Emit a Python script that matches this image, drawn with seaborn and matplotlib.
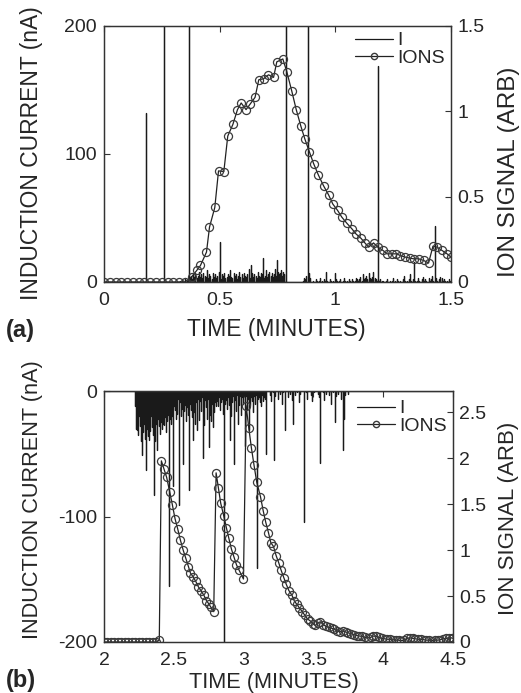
import numpy as np
import pandas as pd
import matplotlib
matplotlib.use("Agg")
import matplotlib.pyplot as plt
import seaborn as sns
from matplotlib.lines import Line2D

sns.set_style("white")
plt.rcParams["font.family"] = ["Liberation Sans", "DejaVu Sans"]

# ---------------- Panel (a) data ----------------
ion_a_t = [0.0, 0.025, 0.05, 0.075, 0.1, 0.125, 0.15, 0.175, 0.2, 0.225, 0.25, 0.275, 0.3, 0.325, 0.35,
           0.379, 0.401, 0.417, 0.443, 0.456, 0.479, 0.495, 0.518, 0.535, 0.557, 0.577, 0.593, 0.614,
           0.632, 0.653, 0.669, 0.690, 0.711, 0.733, 0.747, 0.773, 0.790, 0.812, 0.831, 0.851, 0.868,
           0.888, 0.906, 0.927, 0.949, 0.971, 0.989, 1.010, 1.028, 1.050, 1.072, 1.089, 1.111, 1.129,
           1.144, 1.165, 1.184, 1.206, 1.223, 1.245, 1.264, 1.281, 1.302, 1.321, 1.339, 1.360, 1.382,
           1.403, 1.422, 1.440, 1.461, 1.483, 1.500]
ion_a_v = [0, 0, 0, 0, 0, 0, 0, 0, 0, 0, 0, 0, 0, 0, 0,
           0.03, 0.068, 0.097, 0.175, 0.321, 0.437, 0.651, 0.647, 0.855, 0.923, 1.010, 1.049, 1.010,
           1.043, 1.082, 1.185, 1.191, 1.214, 1.199, 1.290, 1.307, 1.233, 1.117, 1.010, 0.913, 0.839,
           0.762, 0.694, 0.626, 0.564, 0.510, 0.457, 0.419, 0.380, 0.344, 0.311, 0.282, 0.256, 0.227,
           0.204, 0.229, 0.204, 0.185, 0.165, 0.165, 0.165, 0.155, 0.146, 0.140, 0.136, 0.136, 0.126,
           0.111, 0.210, 0.204, 0.185, 0.165, 0.146]

# isolated current spikes (nA)
spk_a_t = [0.182, 0.260, 0.366, 0.502, 0.636, 0.687, 0.747, 0.788, 0.883, 1.184, 1.339, 1.432]
spk_a_v = [132, 260, 260, 31, 13, 19, 17, 260, 260, 169, 16, 44]

# dense noise bands: (start, end) and read-off heights
band_a_1 = (0.33, 0.37)
band_a_1_v = [1, 0, 2, 1, 0, 3, 1, 2, 4, 2]
band_a_2 = (0.37, 0.785)
band_a_2_v = [3, 5, 2, 6, 4, 7, 3, 5, 8, 4, 6, 3, 7, 5, 4, 9, 3, 6, 5, 2, 7, 4, 6, 3, 5, 8, 4, 2,
              6, 5, 7, 3, 4, 6, 5, 9, 4, 3, 7, 5, 6, 2, 5, 8, 4, 6, 3, 7, 5, 4, 6, 10, 3, 5, 7, 4,
              6, 5, 3, 8, 5, 4, 7, 6, 3, 5, 9, 4, 6, 8, 5, 7, 4, 6, 10, 5, 8, 6, 7, 9, 5, 8, 6, 4]
band_a_3 = (0.86, 0.89)
band_a_3_v = [1, 3, 2, 5, 2, 7, 3]
band_a_4 = (0.90, 1.20)
band_a_4_v = [0, 1, 0, 2, 1, 0, 1, 3, 1, 0, 2, 1, 8, 1, 0, 2, 1, 0, 1, 7, 2, 1, 0, 1, 2, 0, 1, 3,
              1, 0, 1, 2, 1, 0, 2, 1, 1, 3, 2, 1, 2, 4, 1, 6, 2, 3, 5, 2, 7, 3, 2, 4, 8, 3, 2, 1,
              0, 1, 2, 1]
band_a_5 = (1.20, 1.50)
band_a_5_v = [0, 1, 0, 0, 1, 2, 0, 1, 0, 1, 3, 1, 0, 2, 1, 0, 1, 0, 2, 5, 1, 0, 1, 2, 6, 1, 0, 2,
              1, 0, 1, 3, 1, 0, 2, 4, 1, 2, 1, 0, 3, 1, 2, 5, 1, 2, 3, 1, 0, 2, 4, 3, 1, 2, 1, 0,
              1, 2, 1, 0]

# ---------------- Panel (b) data ----------------
ion_b_t = [2.0, 2.025, 2.05, 2.075, 2.1, 2.125, 2.15, 2.175, 2.2, 2.225, 2.25, 2.275, 2.3, 2.325,
           2.35, 2.375, 2.396,
           2.411, 2.430, 2.449, 2.471, 2.490, 2.509, 2.528, 2.547, 2.567, 2.586, 2.605, 2.619, 2.638,
           2.657, 2.676, 2.698, 2.715, 2.734, 2.753, 2.765, 2.786,
           2.803, 2.820, 2.836, 2.858, 2.877, 2.894, 2.913, 2.932, 2.949, 2.968, 2.999,
           3.018, 3.037, 3.056, 3.075, 3.094, 3.121, 3.140, 3.159, 3.178, 3.195, 3.214, 3.233, 3.252,
           3.269, 3.288, 3.305, 3.324, 3.346, 3.362, 3.381, 3.400, 3.420, 3.439, 3.458, 3.477, 3.496,
           3.515, 3.535, 3.55, 3.57, 3.59, 3.61, 3.63, 3.65, 3.67, 3.69, 3.71, 3.73, 3.75, 3.77, 3.79,
           3.81, 3.83, 3.85, 3.87, 3.89, 3.91, 3.93, 3.95, 3.97, 3.99, 4.01, 4.03, 4.05, 4.07, 4.09,
           4.11, 4.13, 4.15, 4.17, 4.19, 4.21, 4.23, 4.25, 4.27, 4.29, 4.31, 4.33, 4.35, 4.37, 4.39,
           4.41, 4.43, 4.45, 4.47, 4.49, 4.50]
ion_b_v = [0, 0, 0, 0, 0, 0, 0, 0, 0, 0, 0, 0, 0, 0, 0, 0, 0.02,
           1.97, 1.88, 1.79, 1.63, 1.49, 1.34, 1.23, 1.11, 1.00, 0.91, 0.82, 0.75, 0.71,
           0.66, 0.60, 0.55, 0.51, 0.45, 0.41, 0.38, 0.33,
           1.84, 1.67, 1.51, 1.37, 1.24, 1.13, 1.01, 0.92, 0.84, 0.78, 0.685,
           2.57, 2.33, 2.11, 1.92, 1.74, 1.58, 1.43, 1.30, 1.19, 1.08, 1.04, 0.94, 0.86,
           0.78, 0.70, 0.63, 0.56, 0.51, 0.45, 0.41, 0.37, 0.33, 0.29, 0.25, 0.23, 0.20,
           0.18, 0.21, 0.22, 0.19, 0.17, 0.16, 0.15, 0.14, 0.12, 0.11, 0.12, 0.11, 0.10, 0.09, 0.08,
           0.07, 0.065, 0.06, 0.05, 0.045, 0.05, 0.065, 0.06, 0.05, 0.04, 0.035, 0.03, 0.03, 0.025, 0.02,
           0.02, 0.015, 0.02, 0.04, 0.045, 0.04, 0.035, 0.03, 0.03, 0.025, 0.02, 0.02, 0.015, 0.02, 0.02,
           0.025, 0.035, 0.04, 0.04, 0.045, 0.04]

spk_b_t = [2.239, 2.270, 2.299, 2.320, 2.358, 2.378, 2.400, 2.425, 2.468, 2.497, 2.535, 2.564,
           2.612, 2.636, 2.664, 2.712, 2.755, 2.784, 2.860, 2.903, 2.932, 2.958, 3.008, 3.042,
           3.095, 3.159, 3.219, 3.298, 3.357, 3.434, 3.549, 3.656, 3.709, 3.716]
spk_b_v = [-31, -51, -63, -39, -83, -47, -34, -26, -155, -76, -91, -58, -79, -39, -31, -53, -45,
           -29, -205, -39, -58, -26, -44, -31, -141, -50, -55, -31, -26, -104, -57, -25, -47, -22]

band_b_1 = (2.225, 2.50)
band_b_1_v = [-12, -30, -18, -25, -8, -35, -20, -15, -28, -10, -40, -22, -17, -33, -12, -26, -19,
              -38, -14, -24, -30, -9, -21, -36, -16, -27, -13, -32, -20, -11, -29, -18, -35, -23,
              -15, -40, -19, -26, -12, -31, -22, -17, -28, -14, -34, -20, -25, -11, -30, -18, -23,
              -16, -27, -13, -21, -33, -15, -24, -19, -12, -28, -17, -22, -10, -26, -14, -20, -30,
              -16, -12]
band_b_2 = (2.50, 2.80)
band_b_2_v = [-8, -15, -5, -22, -10, -18, -6, -25, -12, -9, -20, -4, -14, -28, -7, -16, -11, -24,
              -6, -13, -19, -8, -30, -10, -15, -5, -21, -12, -17, -7, -26, -9, -14, -20, -6, -11,
              -23, -8, -16, -12, -5, -18, -10, -27, -7, -13, -9, -22, -6, -15, -11, -19, -8, -24,
              -10, -14, -6, -17, -9, -12]
band_b_3 = (2.80, 3.15)
band_b_3_v = [-3, -8, -2, -12, -5, -15, -4, -9, -6, -18, -3, -10, -7, -4, -14, -5, -11, -3, -20,
              -6, -9, -4, -13, -7, -5, -16, -3, -8, -11, -4, -6, -19, -5, -10, -3, -12, -7, -4,
              -15, -6, -9, -3, -11, -5, -8, -17, -4, -7, -10, -3, -13, -6, -5, -9, -4, -12, -3,
              -8, -5, -6]
band_b_4 = (3.15, 3.75)
band_b_4_v = [-2, -5, 0, -3, -8, -1, -4, 0, -6, -2, -10, -1, -3, 0, -5, -2, -7, 0, -3, -1, -9,
              -2, 0, -4, -1, -6, 0, -3, -8, -1, 0, -2, -5, 0, -1, -7, -2, 0, -3, -10, -1, 0, -4,
              -2, 0, -6, -1, -3, 0, -2]

# axes / tick definitions
xt_a = [0, 0.5, 1, 1.5]
xtl_a = ["0", "0.5", "1", "1.5"]
yt_a = [0, 100, 200]
yt2_a = [0, 0.5, 1, 1.5]
yt2l_a = ["0", "0.5", "1", "1.5"]
xt_b = [2, 2.5, 3, 3.5, 4, 4.5]
xtl_b = ["2", "2.5", "3", "3.5", "4", "4.5"]
yt_b = [-200, -100, 0]
yt2_b = [0, 0.5, 1, 1.5, 2, 2.5]
yt2l_b = ["0", "0.5", "1", "1.5", "2", "2.5"]


def current_frame(xlim, spk_t, spk_v, bands):
    """Build a spike trace table (baseline 0, each reading goes 0 -> value -> 0)."""
    ts = list(spk_t)
    vs = list(spk_v)
    for (a, b), vals in bands:
        ts += list(np.linspace(a, b, len(vals)))
        vs += list(vals)
    order = np.argsort(ts, kind="stable")
    t_out = [xlim[0]]
    v_out = [0.0]
    for i in order:
        t_out += [ts[i], ts[i], ts[i]]
        v_out += [0.0, vs[i], 0.0]
    t_out.append(xlim[1])
    v_out.append(0.0)
    return pd.DataFrame({"t": t_out, "I": v_out})


TICK_FS = 14
SP_COL = "#1a1a1a"
ION_LINE = "#222222"
ION_EDGE = "#3a3a3a"
W, H = 521, 693

fig = plt.figure(figsize=(W / 100, H / 100), dpi=100)


def make_panel(box, xlim, ylim, ylim2, xt, xtl, yt, yt2, yt2l, df_cur, ion_t, ion_v,
               letter, letter_y, lab_fs, rlab_fs, xlab_top, xlab_cx, ylab_cy, rlab_cy, leg_dy):
    l, t, r, b = box
    axw, axh = r - l, b - t
    ax = fig.add_axes([l / W, 1 - b / H, axw / W, axh / H])
    ax2 = ax.twinx()
    sns.lineplot(data=df_cur, x="t", y="I", ax=ax, sort=False, estimator=None,
                 color=SP_COL, lw=0.9)
    df_ion = pd.DataFrame({"t": ion_t, "s": ion_v})
    sns.lineplot(data=df_ion, x="t", y="s", ax=ax2, sort=False, estimator=None,
                 color=ION_LINE, lw=0.9, marker="o", markersize=5.8,
                 markerfacecolor="none", markeredgecolor=ION_EDGE, markeredgewidth=0.9)
    ax.set_xlim(*xlim)
    ax.set_ylim(*ylim)
    ax2.set_ylim(*ylim2)
    ax.set_xticks(xt)
    ax.set_xticklabels(xtl)
    ax.set_yticks(yt)
    ax.set_yticklabels([str(v) for v in yt])
    ax2.set_yticks(yt2)
    ax2.set_yticklabels(yt2l)
    ax.tick_params(axis="x", direction="in", top=True, length=4, width=0.8,
                   labelsize=TICK_FS, pad=7.5, color="#333")
    ax.tick_params(axis="y", direction="in", length=4, width=0.8, labelsize=TICK_FS,
                   pad=5, color="#333")
    ax2.tick_params(axis="y", direction="in", length=4, width=0.8, labelsize=TICK_FS,
                    pad=4.5, color="#333")
    for a in (ax, ax2):
        for s in a.spines.values():
            s.set_color("#333333")
            s.set_linewidth(0.9)
    ax.set_xlabel("TIME (MINUTES)", fontsize=lab_fs)
    ax.xaxis.set_label_coords((xlab_cx - l) / axw, (b - xlab_top) / axh)
    ax.set_ylabel("INDUCTION CURRENT (nA)", fontsize=lab_fs)
    ax.yaxis.set_label_coords((43 - l) / axw, (b - ylab_cy) / axh)
    ax2.set_ylabel("ION SIGNAL (ARB)", fontsize=rlab_fs)
    ax2.yaxis.set_label_coords((498 - l) / axw, (b - rlab_cy) / axh)
    handles = [Line2D([], [], color=SP_COL, lw=0.9),
               Line2D([], [], color=ION_LINE, lw=0.9, marker="o", markersize=4.5,
                      markerfacecolor="none", markeredgecolor=ION_EDGE)]
    ax2.legend(handles, ["I", "IONS"], loc="upper right", frameon=False,
               bbox_to_anchor=(1.0, 1.0 - leg_dy / axh),
               fontsize=14, handlelength=1.95, handletextpad=0.25,
               labelspacing=0.0, borderaxespad=0.0, borderpad=0.3)
    fig.text(6 / W, 1 - letter_y / H, letter, fontsize=17, fontweight="bold",
             va="center", ha="left")
    return ax, ax2


df_a = current_frame((0, 1.5), spk_a_t, spk_a_v,
                     [(band_a_1, band_a_1_v), (band_a_2, band_a_2_v), (band_a_3, band_a_3_v),
                      (band_a_4, band_a_4_v), (band_a_5, band_a_5_v)])
df_b = current_frame((2, 4.5), spk_b_t, spk_b_v,
                     [(band_b_1, band_b_1_v), (band_b_2, band_b_2_v), (band_b_3, band_b_3_v),
                      (band_b_4, band_b_4_v)])

make_panel((104, 26, 451, 282), (0, 1.5), (0, 200), (0, 1.5),
           xt_a, xtl_a, yt_a, yt2_a, yt2l_a, df_a, ion_a_t, ion_a_v, "(a)", 330,
           16.5, 17.5, 318, 276, 153.5, 172, 0)
make_panel((104, 391, 453, 642), (2, 4.5), (-200, 0), (0, 2.73),
           xt_b, xtl_b, yt_b, yt2_b, yt2l_b, df_b, ion_b_t, ion_b_v, "(b)", 681,
           15.7, 16, 672, 274, 500, 518, 3)

fig.savefig("out.png", dpi=100)
